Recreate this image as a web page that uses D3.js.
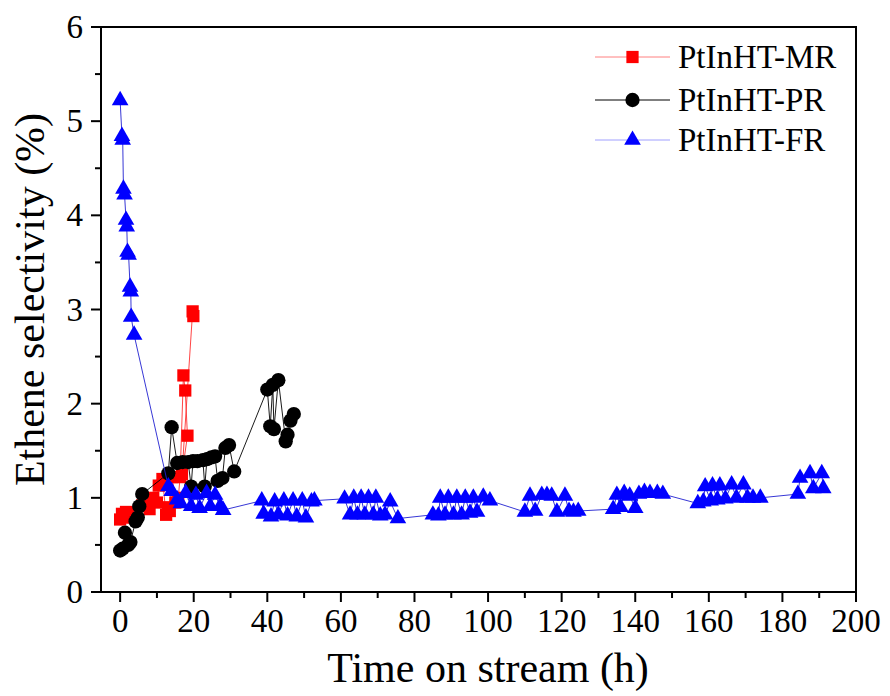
<!DOCTYPE html>
<html>
<head>
<meta charset="utf-8">
<script src="https://cdn.jsdelivr.net/npm/d3@7"></script>
</head>
<body style="margin:0">
<svg id="chart" width="890" height="696"></svg>
<script>
// Time on stream (h) and ethene selectivity (%) for each reactor run
const mrTime = [0, 0.5, 1, 1.6, 2.2, 6, 8, 9, 10, 10.5, 11.5, 12.5, 13, 13.5, 14.2, 15, 15.8, 16.3, 17.2, 17.7, 18.3, 16.8, 19.7, 19.9];
const mrSel  = [0.77, 0.83, 0.79, 0.85, 0.84, 0.92, 0.88, 1.0, 0.95, 1.13, 1.2, 0.82, 0.9, 0.86, 1.22, 0.95, 1.0, 1.22, 2.3, 2.14, 1.66, 1.25, 2.98, 2.93];

const prTime = [0, 0.7, 1.3, 2.2, 2.8, 4.2, 4.8, 5.2, 6, 13.1, 14, 15.5, 17, 18.5, 19.3, 19.8, 21, 22.5, 23, 23.6, 24.8, 25.8, 26.5, 27.8, 28.6, 29.6, 31, 40, 40.8, 41.5, 41.8, 43, 45, 45.5, 46.3, 47.2];
const prSel  = [0.44, 0.46, 0.63, 0.5, 0.53, 0.75, 0.79, 0.91, 1.04, 1.26, 1.75, 1.37, 1.38, 1.38, 1.12, 1.39, 1.39, 1.4, 1.12, 1.41, 1.43, 1.44, 1.18, 1.21, 1.53, 1.56, 1.28, 2.15, 1.76, 2.2, 1.73, 2.25, 1.6, 1.67, 1.82, 1.89];

const frTime = [0, 0.5, 0.7, 0.9, 1.2, 1.6, 1.8, 2.0, 2.3, 2.7, 2.9, 3.0, 3.8,
  13.1, 14, 15.5, 16.5, 17.8, 19.3, 20.6, 21.6, 23.5, 24.5, 25.8, 27.2, 28,
  38.5, 39, 41, 42, 43, 44.5, 45.5, 47, 48, 49.5, 50.5, 52, 52.8,
  61, 62.5, 63.5, 64.5, 65.5, 66.5, 67.5, 68.8, 69.5, 70.7, 72, 73.4, 75.5,
  85, 86.5, 87, 88.3, 89.2, 90.6, 91.5, 92.8, 93.8, 95.1, 96, 97, 98.7, 100.5,
  110, 111.4, 112.8, 114.6, 116, 117.3, 118.7, 120.9, 122, 123.2, 124.5,
  134, 135, 136, 137, 138.5, 140, 141, 142.5, 144, 146, 147.5,
  157, 158.5, 159, 160.5, 161, 162.3, 163, 164.5, 166.2, 167.5, 169.4, 170.5, 172, 174,
  184.2, 184.8, 187.5, 188.4, 190.7, 191.1];
const frSel  = [5.22, 4.84, 4.8, 4.28, 4.22, 3.95, 3.88, 3.61, 3.58, 3.24, 3.19, 2.92, 2.73,
  1.12, 1.07, 0.98, 0.94, 1.05, 0.91, 1.03, 0.89, 1.05, 0.91, 1.03, 0.91, 0.87,
  0.97, 0.83, 0.8, 0.96, 0.82, 0.97, 0.81, 0.97, 0.8, 0.97, 0.79, 0.96, 0.97,
  0.99, 0.82, 1.0, 0.82, 1.0, 0.82, 1.0, 0.82, 1.0, 0.81, 0.82, 0.96, 0.78,
  0.82, 0.81, 1.0, 0.82, 1.0, 0.82, 1.0, 0.82, 1.0, 0.84, 1.0, 0.85, 1.01, 0.97,
  0.85, 1.02, 0.86, 1.03, 1.03, 1.02, 0.85, 1.02, 0.86, 0.85, 0.86,
  0.88, 1.03, 0.9, 1.05, 1.02, 0.89, 1.04, 1.06, 1.05, 1.05, 1.04,
  0.94, 0.96, 1.12, 0.97, 1.13, 0.98, 1.13, 0.99, 1.14, 1.0, 1.14, 1.0, 1.0, 1.0,
  1.04, 1.21, 1.26, 1.1, 1.26, 1.1];

const seriesNames = ["PtInHT-MR", "PtInHT-PR", "PtInHT-FR"];
const xTicks = [0, 20, 40, 60, 80, 100, 120, 140, 160, 180, 200];
const yTicks = [0, 1, 2, 3, 4, 5, 6];

const FONT = '"Times New Roman", monospace';

const svg = d3.select("#chart");
const plot = { left: 101, top: 27, right: 856, bottom: 592 };

const x = d3.scaleLinear().domain([-5.2, 200]).range([plot.left, plot.right]);
const y = d3.scaleLinear().domain([0, 6]).range([plot.bottom, plot.top]);

const series = [
  { name: seriesNames[0], t: mrTime, v: mrSel, color: "#ff0000", line: "#ff3030", symbol: d3.symbolSquare, size: 150 },
  { name: seriesNames[1], t: prTime, v: prSel, color: "#000000", line: "#000000", symbol: d3.symbolCircle, size: 160 },
  { name: seriesNames[2], t: frTime, v: frSel, color: "#0000ff", line: "#2020d0", symbol: d3.symbolTriangle, size: 120 }
];

// Frame
svg.append("rect")
  .attr("x", plot.left).attr("y", plot.top)
  .attr("width", plot.right - plot.left).attr("height", plot.bottom - plot.top)
  .attr("fill", "none").attr("stroke", "#000").attr("stroke-width", 2);

// Tick labels carry their own font settings
function label(sel) {
  return sel.append("text").attr("font-size", 33).style("font-family", FONT);
}

// X axis: major ticks every 20, minor every 10, outward
const xMinor = d3.range(0, 201, 10).filter(d => d % 20 !== 0);
const gx = svg.append("g").attr("transform", `translate(0,${plot.bottom})`);
gx.selectAll(".major").data(xTicks).enter().append("line")
  .attr("x1", d => x(d)).attr("x2", d => x(d)).attr("y1", 0).attr("y2", 10)
  .attr("stroke", "#000").attr("stroke-width", 2);
gx.selectAll(".minor").data(xMinor).enter().append("line")
  .attr("x1", d => x(d)).attr("x2", d => x(d)).attr("y1", 0).attr("y2", 6)
  .attr("stroke", "#000").attr("stroke-width", 2);
xTicks.forEach(d => {
  label(gx).attr("x", x(d)).attr("y", 40).attr("text-anchor", "middle").text(d3.format("d")(d));
});

// Y axis: major ticks every 1, minor every 0.5, outward
const yMinor = d3.range(0.5, 6, 1);
const gy = svg.append("g").attr("transform", `translate(${plot.left},0)`);
gy.selectAll(".major").data(yTicks).enter().append("line")
  .attr("x1", -10).attr("x2", 0).attr("y1", d => y(d)).attr("y2", d => y(d))
  .attr("stroke", "#000").attr("stroke-width", 2);
gy.selectAll(".minor").data(yMinor).enter().append("line")
  .attr("x1", -6).attr("x2", 0).attr("y1", d => y(d)).attr("y2", d => y(d))
  .attr("stroke", "#000").attr("stroke-width", 2);
yTicks.forEach(d => {
  label(gy).attr("x", -18).attr("y", y(d) + 11).attr("text-anchor", "end").text(d3.format("d")(d));
});

// Axis titles
svg.append("text")
  .attr("x", (x(0) + x(200)) / 2).attr("y", 682)
  .attr("text-anchor", "middle").attr("font-size", 42)
  .style("font-family", FONT)
  .text("Time on stream (h)");
svg.append("text")
  .attr("transform", `translate(44,${(plot.top + plot.bottom) / 2 - 10}) rotate(-90)`)
  .attr("text-anchor", "middle").attr("font-size", 42)
  .style("font-family", FONT)
  .text("Ethene selectivity (%)");

// Data: connecting line first, then markers, one series at a time
const line = d3.line().x(d => x(d[0])).y(d => y(d[1]));
series.forEach(s => {
  const pts = s.t.map((t, i) => [t, s.v[i]]);
  svg.append("path").datum(pts)
    .attr("d", line).attr("fill", "none")
    .attr("stroke", s.line).attr("stroke-width", 0.9);
  svg.append("g").selectAll("path").data(pts).enter().append("path")
    .attr("transform", d => `translate(${x(d[0])},${y(d[1])})`)
    .attr("d", d3.symbol().type(s.symbol).size(s.size))
    .attr("fill", s.color);
});

// Legend
const legendRows = [57, 100, 140];
const legendLine = { x1: 595, x2: 670 };
const legendColors = ["#ff8080", "#000000", "#a0a0ff"];
series.forEach((s, i) => {
  const g = svg.append("g").attr("transform", `translate(0,${legendRows[i]})`);
  g.append("line").attr("x1", legendLine.x1).attr("x2", legendLine.x2)
    .attr("y1", 0).attr("y2", 0).attr("stroke", legendColors[i]).attr("stroke-width", 1);
  g.append("path").attr("transform", `translate(${(legendLine.x1 + legendLine.x2) / 2},0)`)
    .attr("d", d3.symbol().type(s.symbol).size(s.size)).attr("fill", s.color);
  g.append("text").attr("x", 678).attr("y", 11).attr("font-size", 33)
    .style("font-family", FONT).text(s.name);
});
</script>
</body>
</html>
